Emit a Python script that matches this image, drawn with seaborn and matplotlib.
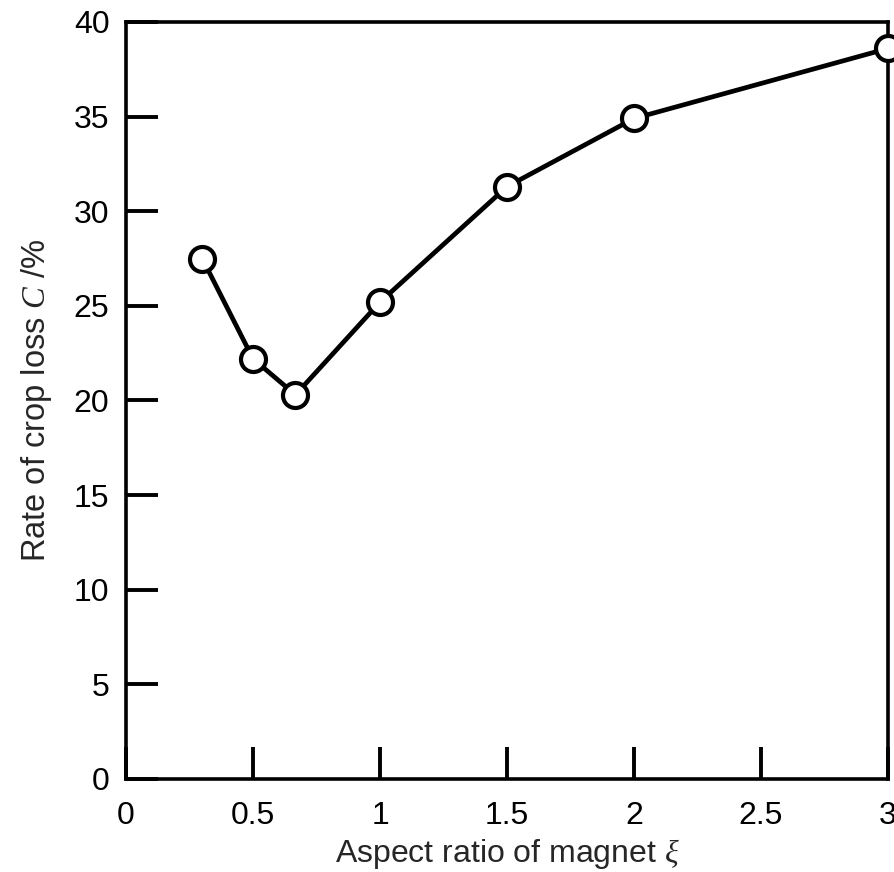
import matplotlib
matplotlib.use("Agg")
import matplotlib.pyplot as plt
import seaborn as sns
import pandas as pd

# Crop loss rate versus magnet aspect ratio
aspect_ratio = [0.3, 0.5, 0.667, 1.0, 1.5, 2.0, 3.0]
crop_loss = [27.5, 22.2, 20.3, 25.2, 31.3, 34.9, 38.6]
x_ticks = [0, 0.5, 1, 1.5, 2, 2.5, 3]
x_tick_labels = ["0", "0.5", "1", "1.5", "2", "2.5", "3"]
y_ticks = [0, 5, 10, 15, 20, 25, 30, 35, 40]

sns.set_style("ticks")
plt.rcParams["font.family"] = ["Liberation Sans", "DejaVu Sans"]
plt.rcParams["mathtext.fontset"] = "custom"
plt.rcParams["mathtext.it"] = "Liberation Serif:italic"
plt.rcParams["mathtext.rm"] = "Liberation Serif"

df = pd.DataFrame({"xi": aspect_ratio, "C": crop_loss})

fig = plt.figure(figsize=(8.94, 8.72), dpi=100)
ax = fig.add_axes([0.141, 0.1067, 0.8523, 0.8681])

sns.lineplot(data=df, x="xi", y="C", ax=ax, color="black", linewidth=3.4,
             marker="o", markersize=18, markerfacecolor="white",
             markeredgecolor="black", markeredgewidth=3.0, clip_on=False,
             zorder=5)

ax.set_xlim(0, 3)
ax.set_ylim(0, 40)
ax.set_xticks(x_ticks)
ax.set_xticklabels(x_tick_labels)
ax.set_yticks(y_ticks)

for side in ["left", "right", "top", "bottom"]:
    ax.spines[side].set_visible(True)
    ax.spines[side].set_linewidth(2.6)
    ax.spines[side].set_color("black")

ax.tick_params(axis="both", direction="in", length=23, width=2.8,
               labelsize=23, colors="black", pad=12)
ax.tick_params(axis="x", pad=16)

ax.set_xlabel(r"Aspect ratio of magnet $\xi$", fontsize=23, labelpad=4)
ax.set_ylabel(r"Rate of crop loss $C$ /%", fontsize=23.5, labelpad=14)

fig.savefig("out.png", dpi=100)
